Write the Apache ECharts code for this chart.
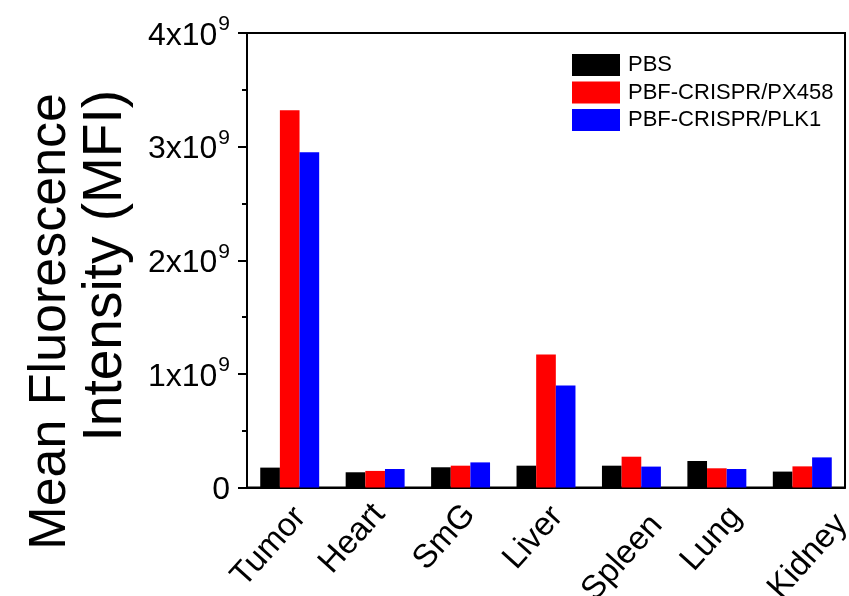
<!DOCTYPE html>
<html><head><meta charset="utf-8">
<script src="https://cdn.jsdelivr.net/npm/echarts@6/dist/echarts.min.js"></script>
<style>html,body{margin:0;padding:0;background:#fff}#c{width:849px;height:596px}</style>
</head><body><div id="c"></div>
<script>
const categories = ['Tumor','Heart','SmG','Liver','Spleen','Lung','Kidney'];
const seriesNames = ['PBS','PBF-CRISPR/PX458','PBF-CRISPR/PLK1'];
const pbs   = [0.175e9, 0.134e9, 0.178e9, 0.192e9, 0.192e9, 0.233e9, 0.140e9];
const px458 = [3.32e9, 0.146e9, 0.192e9, 1.17e9, 0.271e9, 0.169e9, 0.186e9];
const plk1  = [2.95e9, 0.163e9, 0.221e9, 0.898e9, 0.184e9, 0.163e9, 0.265e9];
const yTickLabels = {0:'0', 1e9:'1x10|9', 2e9:'2x10|9', 3e9:'3x10|9', 4e9:'4x10|9'};
const colors = ['#000000','#ff0000','#0000ff'];

// per-label nudges of the rotated category labels: [top padding, right padding]
const labelNudge = [[54,14],[40,16],[48,13],[54,13],[86,10],[66,8],[106,0]];

const FONT = 'Arial, "Liberation Sans", sans-serif';
const xRich = {};
labelNudge.forEach(function(n,i){
  xRich['t'+i] = {fontFamily:FONT,fontSize:33,color:'#000',padding:[n[0],n[1],0,0]};
});
const chart = echarts.init(document.getElementById('c'));
chart.setOption({
  animation:false,
  grid:{left:247,right:4,top:33,bottom:108.5,show:true,borderColor:'#000',borderWidth:2,backgroundColor:'transparent',
        containLabel:false, outerBoundsMode:'none'},
  legend:{
    orient:'vertical', left:572, top:54, padding:0, itemWidth:48, itemHeight:22, itemGap:5.5,
    icon:'rect', data:seriesNames,
    textStyle:{fontFamily:FONT,fontSize:22,color:'#000',lineHeight:22,padding:[0,0,0,3]}
  },
  xAxis:{
    type:'category', data:categories,
    axisLine:{lineStyle:{color:'#000',width:2}},
    axisTick:{alignWithLabel:true,length:9,lineStyle:{color:'#000',width:2}},
    axisLabel:{rotate:48,margin:-4,interval:0,
      formatter:function(v,i){ return '{t'+i+'|'+v+'}'; },
      rich:xRich}
  },
  yAxis:{
    type:'value', min:0, max:4e9, interval:1e9,
    splitLine:{show:false},
    axisLine:{show:true,lineStyle:{color:'#000',width:2}},
    axisTick:{show:true,length:9,lineStyle:{color:'#000',width:2}},
    minorTick:{show:true,splitNumber:2,length:5,lineStyle:{color:'#000',width:2}},
    axisLabel:{
      margin:17, color:'#000',
      formatter:function(v){
        const s = yTickLabels[v];
        if(s===undefined) return '';
        const p = s.split('|');
        return p.length>1 ? '{a|'+p[0]+'}{s|'+p[1]+'}' : '{a|'+p[0]+'}';
      },
      rich:{
        a:{fontFamily:FONT,fontSize:32,lineHeight:38,verticalAlign:'bottom',color:'#000'},
        s:{fontFamily:FONT,fontSize:21,lineHeight:21,verticalAlign:'top',color:'#000',padding:[0,0,0,1]}
      }
    }
  },
  graphic:[
    {type:'text', x:51, y:93, rotation:Math.PI/2,
     style:{text:'Mean Fluorescence', fontFamily:FONT, fontSize:52, fill:'#000', textAlign:'right', textVerticalAlign:'middle'}},
    {type:'text', x:106, y:90, rotation:Math.PI/2,
     style:{text:'Intensity (MFI)', fontFamily:FONT, fontSize:55, fill:'#000', textAlign:'right', textVerticalAlign:'middle'}}
  ],
  series:[
    {name:seriesNames[0], type:'bar', data:pbs, barGap:'0%', barCategoryGap:'31%', itemStyle:{color:colors[0]}},
    {name:seriesNames[1], type:'bar', data:px458, barGap:'0%', barCategoryGap:'31%', itemStyle:{color:colors[1]}},
    {name:seriesNames[2], type:'bar', data:plk1, barGap:'0%', barCategoryGap:'31%', itemStyle:{color:colors[2]}}
  ]
});
</script></body></html>
